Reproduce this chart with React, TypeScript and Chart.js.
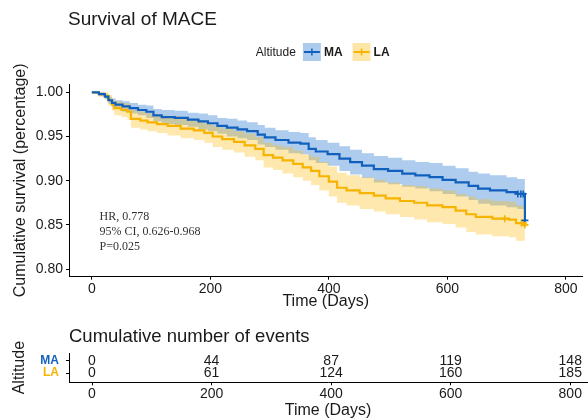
import React, { useEffect, useRef } from 'react';
import { Chart, registerables } from 'chart.js';

Chart.register(...registerables);

// ---------------- data ----------------
const SERIES_NAMES = ['MA', 'LA'];
const LEGEND_TITLE = 'Altitude';
const MAIN_TITLE = 'Survival of MACE';
const TABLE_TITLE = 'Cumulative number of events';
const X_TITLE = 'Time (Days)';
const Y_TITLE = 'Cumulative survival (percentage)';
const ANNOTATION_LINES = ['HR, 0.778', '95% CI, 0.626-0.968', 'P=0.025'];

const X_TICKS = [0, 200, 400, 600, 800];
const Y_TICKS = [0.8, 0.85, 0.9, 0.95, 1.0];

const MA_TIMES = [0, 12, 22, 28, 34, 40, 52, 64, 78, 92, 104, 118, 140, 162, 180, 196, 212, 228, 246, 262, 280, 292, 310, 332, 352, 366, 378, 398, 418, 436, 456, 476, 500, 524, 546, 570, 592, 614, 636, 652, 672, 700, 718, 731];
const MA_SURV = [1.000, 0.998, 0.995, 0.991, 0.988, 0.986, 0.984, 0.982, 0.980, 0.978, 0.974, 0.972, 0.971, 0.969, 0.967, 0.965, 0.962, 0.960, 0.958, 0.956, 0.952, 0.949, 0.946, 0.943, 0.942, 0.936, 0.933, 0.930, 0.925, 0.921, 0.917, 0.913, 0.911, 0.908, 0.906, 0.904, 0.901, 0.898, 0.894, 0.891, 0.889, 0.887, 0.885, 0.855];
const MA_UPPER = [1.000, 1.000, 0.998, 0.995, 0.993, 0.991, 0.990, 0.988, 0.986, 0.985, 0.981, 0.980, 0.979, 0.977, 0.976, 0.974, 0.971, 0.970, 0.968, 0.966, 0.963, 0.960, 0.957, 0.955, 0.954, 0.949, 0.946, 0.943, 0.939, 0.935, 0.931, 0.928, 0.926, 0.923, 0.921, 0.920, 0.917, 0.914, 0.910, 0.908, 0.906, 0.904, 0.902, 0.902];
const MA_LOWER = [1.000, 0.996, 0.992, 0.987, 0.983, 0.981, 0.978, 0.976, 0.974, 0.971, 0.967, 0.964, 0.963, 0.961, 0.958, 0.956, 0.953, 0.950, 0.948, 0.946, 0.941, 0.938, 0.935, 0.931, 0.930, 0.923, 0.920, 0.917, 0.911, 0.907, 0.903, 0.898, 0.896, 0.893, 0.891, 0.888, 0.885, 0.882, 0.878, 0.874, 0.872, 0.870, 0.868, 0.868];

const LA_TIMES = [0, 12, 22, 28, 34, 38, 50, 60, 66, 82, 94, 110, 128, 150, 172, 190, 204, 220, 240, 258, 276, 290, 306, 322, 340, 356, 370, 384, 400, 414, 430, 452, 476, 496, 520, 544, 566, 592, 614, 632, 648, 676, 704, 716, 731];
const LA_SURV = [1.000, 0.998, 0.996, 0.991, 0.986, 0.982, 0.980, 0.978, 0.970, 0.968, 0.966, 0.964, 0.962, 0.959, 0.957, 0.954, 0.950, 0.947, 0.944, 0.940, 0.936, 0.929, 0.926, 0.923, 0.919, 0.915, 0.911, 0.905, 0.899, 0.892, 0.889, 0.886, 0.883, 0.880, 0.877, 0.875, 0.872, 0.870, 0.866, 0.862, 0.859, 0.857, 0.856, 0.852, 0.850];
const LA_UPPER = [1.000, 1.000, 1.000, 0.997, 0.993, 0.990, 0.988, 0.987, 0.980, 0.978, 0.976, 0.974, 0.973, 0.970, 0.968, 0.965, 0.962, 0.959, 0.956, 0.953, 0.949, 0.943, 0.940, 0.938, 0.934, 0.930, 0.927, 0.921, 0.916, 0.909, 0.906, 0.904, 0.901, 0.898, 0.895, 0.894, 0.891, 0.889, 0.885, 0.882, 0.879, 0.877, 0.876, 0.872, 0.871];
const LA_LOWER = [1.000, 0.995, 0.992, 0.985, 0.979, 0.974, 0.972, 0.969, 0.960, 0.958, 0.956, 0.954, 0.951, 0.948, 0.946, 0.943, 0.938, 0.935, 0.932, 0.927, 0.923, 0.915, 0.912, 0.908, 0.904, 0.900, 0.895, 0.889, 0.882, 0.875, 0.872, 0.868, 0.865, 0.862, 0.859, 0.856, 0.853, 0.851, 0.847, 0.842, 0.839, 0.837, 0.836, 0.832, 0.829];

const MA_CENSOR_T = [719, 724, 728, 731];
const MA_CENSOR_S = [0.885, 0.885, 0.885, 0.855];
const LA_CENSOR_T = [697, 725, 729, 731];
const LA_CENSOR_S = [0.857, 0.852, 0.852, 0.850];

const TABLE_TIMES = [0, 200, 400, 600, 800];
const MA_EVENTS = [0, 44, 87, 119, 148];
const LA_EVENTS = [0, 61, 124, 160, 185];

// ---------------- style ----------------
const SANS = '"Liberation Sans", Arial, sans-serif';
const SERIF = '"Liberation Serif", "Times New Roman", serif';
const TEXT = '#1a1a1a';
const MA_COLOR = '#1260BD';
const LA_COLOR = '#F6B400';
const MA_FILL = 'rgba(40,120,210,0.38)';
const LA_FILL = 'rgba(255,190,20,0.35)';
const MA_KEY_FILL = '#ADCBEC';
const LA_KEY_FILL = '#FEE6A9';

const X_MIN = -38.5;
const X_MAX = 828;
const Y_MIN = 0.7913;
const Y_MAX = 1.0094;
const TABLE_Y_MIN = -0.74;
const TABLE_Y_MAX = 1.6;

const pts = (ts: number[], vs: number[]) => ts.map((t, i) => ({ x: t, y: vs[i] }));

const xAxisBase = (height: number, titlePad: number, tickPad: number, lineHeight: number) => ({
  type: 'linear' as const,
  min: X_MIN,
  max: X_MAX,
  afterBuildTicks: (s: any) => {
    s.ticks = X_TICKS.map((v) => ({ value: v }));
  },
  afterFit: (s: any) => {
    s.height = height;
  },
  grid: { display: true, drawOnChartArea: false, drawTicks: true, tickLength: 3, color: '#000', lineWidth: 1 },
  border: { display: true, color: '#000', width: 1 },
  ticks: {
    autoSkip: false,
    maxRotation: 0,
    padding: tickPad,
    color: TEXT,
    font: { family: SANS, size: 14 },
    callback: (v: any) => String(v),
  },
  title: {
    display: true,
    text: X_TITLE,
    color: TEXT,
    font: { family: SANS, size: 16, lineHeight },
    padding: { top: 0, bottom: titlePad },
  },
});

function MainChart() {
  const ref = useRef<HTMLCanvasElement>(null);
  useEffect(() => {
    const decor = {
      id: 'mainDecor',
      afterDraw(chart: any) {
        const { ctx, chartArea } = chart;
        ctx.save();
        // title
        ctx.fillStyle = TEXT;
        ctx.textAlign = 'left';
        ctx.textBaseline = 'alphabetic';
        ctx.font = `19px ${SANS}`;
        ctx.fillText(MAIN_TITLE, chartArea.left - 1, 25);

        // legend (centred on the panel)
        const keyW = 18;
        const keyH = 18;
        const cy = 52;
        ctx.font = `12px ${SANS}`;
        const wTitle = ctx.measureText(LEGEND_TITLE).width;
        ctx.font = `bold 12px ${SANS}`;
        const wNames = SERIES_NAMES.map((n) => ctx.measureText(n).width);
        const total = wTitle + 7 + keyW + 3 + wNames[0] + 10 + keyW + 3 + wNames[1];
        let x = (chartArea.left + chartArea.right) / 2 - total / 2 - 3;
        ctx.textBaseline = 'middle';
        ctx.font = `12px ${SANS}`;
        ctx.fillStyle = TEXT;
        ctx.fillText(LEGEND_TITLE, x, cy + 0.5);
        x += wTitle + 7;
        const keys = [
          [MA_KEY_FILL, MA_COLOR],
          [LA_KEY_FILL, LA_COLOR],
        ];
        SERIES_NAMES.forEach((name, i) => {
          const [fillC, lineC] = keys[i];
          ctx.fillStyle = fillC;
          ctx.fillRect(x, cy - keyH / 2, keyW, keyH);
          ctx.strokeStyle = lineC;
          ctx.lineWidth = 2;
          ctx.beginPath();
          ctx.moveTo(x + 1, cy);
          ctx.lineTo(x + keyW - 1, cy);
          ctx.stroke();
          ctx.lineWidth = 1.5;
          ctx.beginPath();
          ctx.moveTo(x + keyW / 2, cy - 3.5);
          ctx.lineTo(x + keyW / 2, cy + 3.5);
          ctx.stroke();
          x += keyW + 3;
          ctx.font = `bold 12px ${SANS}`;
          ctx.fillStyle = TEXT;
          ctx.fillText(name, x, cy + 0.5);
          x += wNames[i] + 10;
        });

        // annotation
        ctx.font = `12px ${SERIF}`;
        ctx.fillStyle = '#333';
        ctx.textBaseline = 'middle';
        ANNOTATION_LINES.forEach((line, i) => {
          ctx.fillText(line, chartArea.left + 30.5, 216.5 + i * 15);
        });
        ctx.restore();
      },
    };

    const bandBase = { borderColor: 'rgba(0,0,0,0)', borderWidth: 1, pointRadius: 0, stepped: 'before' as const };
    const chart = new Chart(ref.current!, {
      type: 'line',
      data: {
        datasets: [
          { label: SERIES_NAMES[0], data: pts(MA_TIMES, MA_SURV), borderColor: MA_COLOR, borderWidth: 2.2, pointRadius: 0, stepped: 'before', fill: false, order: 0 },
          { label: SERIES_NAMES[1], data: pts(LA_TIMES, LA_SURV), borderColor: LA_COLOR, borderWidth: 2.2, pointRadius: 0, stepped: 'before', fill: false, order: 0 },
          { label: 'LA upper', data: pts(LA_TIMES, LA_UPPER), ...bandBase, backgroundColor: LA_FILL, fill: 3, order: 1 },
          { label: 'LA lower', data: pts(LA_TIMES, LA_LOWER), ...bandBase, fill: false, order: 1 },
          { label: 'MA upper', data: pts(MA_TIMES, MA_UPPER), ...bandBase, backgroundColor: MA_FILL, fill: 5, order: 2 },
          { label: 'MA lower', data: pts(MA_TIMES, MA_LOWER), ...bandBase, fill: false, order: 2 },
          { label: 'MA censor', data: pts(MA_CENSOR_T, MA_CENSOR_S), showLine: false, pointStyle: 'cross', pointRadius: 3.5, pointBorderColor: MA_COLOR, borderColor: MA_COLOR, pointBorderWidth: 1.6, order: 0 },
          { label: 'LA censor', data: pts(LA_CENSOR_T, LA_CENSOR_S), showLine: false, pointStyle: 'cross', pointRadius: 3.5, pointBorderColor: LA_COLOR, borderColor: LA_COLOR, pointBorderWidth: 1.6, order: 0 },
        ] as any,
      },
      options: {
        responsive: false,
        animation: false,
        devicePixelRatio: 1,
        layout: { padding: { top: 84, left: 0, right: 1, bottom: 0 } },
        plugins: { legend: { display: false }, tooltip: { enabled: false }, title: { display: false } },
        events: [],
        scales: {
          x: xAxisBase(41.3, 6.4, 1, 1.2) as any,
          y: {
            type: 'linear',
            min: Y_MIN,
            max: Y_MAX,
            afterBuildTicks: (s: any) => {
              s.ticks = Y_TICKS.map((v) => ({ value: v }));
            },
            afterFit: (s: any) => {
              s.width = 69;
            },
            grid: { display: true, drawOnChartArea: false, drawTicks: true, tickLength: 3, color: '#000', lineWidth: 1 },
            border: { display: true, color: '#000', width: 1 },
            ticks: {
              autoSkip: false,
              padding: 3,
              color: TEXT,
              font: { family: SANS, size: 14 },
              callback: (v: any) => Number(v).toFixed(2),
            },
            title: {
              display: true,
              text: Y_TITLE,
              color: TEXT,
              font: { family: SANS, size: 16 },
              padding: { top: 11, bottom: 0 },
            },
          } as any,
        },
      },
      plugins: [decor],
    });
    return () => chart.destroy();
  }, []);
  return (
    <canvas
      ref={ref}
      width={588}
      height={318}
      style={{ position: 'absolute', left: 0, top: 0, width: 588, height: 318 }}
    />
  );
}

function TableChart() {
  const ref = useRef<HTMLCanvasElement>(null);
  useEffect(() => {
    const decor = {
      id: 'tableDecor',
      afterDraw(chart: any) {
        const { ctx, chartArea } = chart;
        ctx.save();
        ctx.fillStyle = TEXT;
        ctx.textAlign = 'left';
        ctx.textBaseline = 'alphabetic';
        ctx.font = `18.5px ${SANS}`;
        ctx.fillText(TABLE_TITLE, chartArea.left, 24);
        ctx.font = `14px ${SANS}`;
        ctx.textAlign = 'center';
        ctx.textBaseline = 'middle';
        chart.data.datasets.forEach((ds: any, di: number) => {
          const meta = chart.getDatasetMeta(di);
          meta.data.forEach((el: any, i: number) => {
            ctx.fillText(String(ds.data[i].n), el.x, el.y + 0.5);
          });
        });
        ctx.restore();
      },
    };
    const rows = (events: number[], row: number) => TABLE_TIMES.map((t, i) => ({ x: t, y: row, n: events[i] }));
    const chart = new Chart(ref.current!, {
      type: 'scatter',
      data: {
        datasets: [
          { label: SERIES_NAMES[0], data: rows(MA_EVENTS, 1), pointRadius: 0 },
          { label: SERIES_NAMES[1], data: rows(LA_EVENTS, 0), pointRadius: 0 },
        ] as any,
      },
      options: {
        responsive: false,
        animation: false,
        devicePixelRatio: 1,
        layout: { padding: { top: 35, left: 0, right: 1, bottom: 0 } },
        plugins: { legend: { display: false }, tooltip: { enabled: false }, title: { display: false } },
        events: [],
        scales: {
          x: xAxisBase(36.7, 0, 0, 1.0) as any,
          y: {
            type: 'linear',
            min: TABLE_Y_MIN,
            max: TABLE_Y_MAX,
            afterBuildTicks: (s: any) => {
              s.ticks = [{ value: 0 }, { value: 1 }];
            },
            afterFit: (s: any) => {
              s.width = 69;
            },
            grid: { display: true, drawOnChartArea: false, drawTicks: true, tickLength: 3, color: '#000', lineWidth: 1 },
            border: { display: true, color: '#000', width: 1 },
            ticks: {
              autoSkip: false,
              padding: 7,
              font: { family: SANS, size: 12, weight: 'bold' },
              color: (c: any) => (c.tick && c.tick.value === 1 ? MA_COLOR : LA_COLOR),
              callback: (v: any) => (Number(v) === 1 ? SERIES_NAMES[0] : SERIES_NAMES[1]),
            },
            title: {
              display: true,
              text: LEGEND_TITLE,
              color: TEXT,
              font: { family: SANS, size: 16 },
              padding: { top: 10, bottom: 0 },
            },
          } as any,
        },
      },
      plugins: [decor],
    });
    return () => chart.destroy();
  }, []);
  return (
    <canvas
      ref={ref}
      width={588}
      height={101}
      style={{ position: 'absolute', left: 0, top: 318, width: 588, height: 101 }}
    />
  );
}

export default function App() {
  return (
    <div style={{ position: 'absolute', left: 0, top: 0, width: 588, height: 419, background: '#fff', overflow: 'hidden' }}>
      <MainChart />
      <TableChart />
    </div>
  );
}
